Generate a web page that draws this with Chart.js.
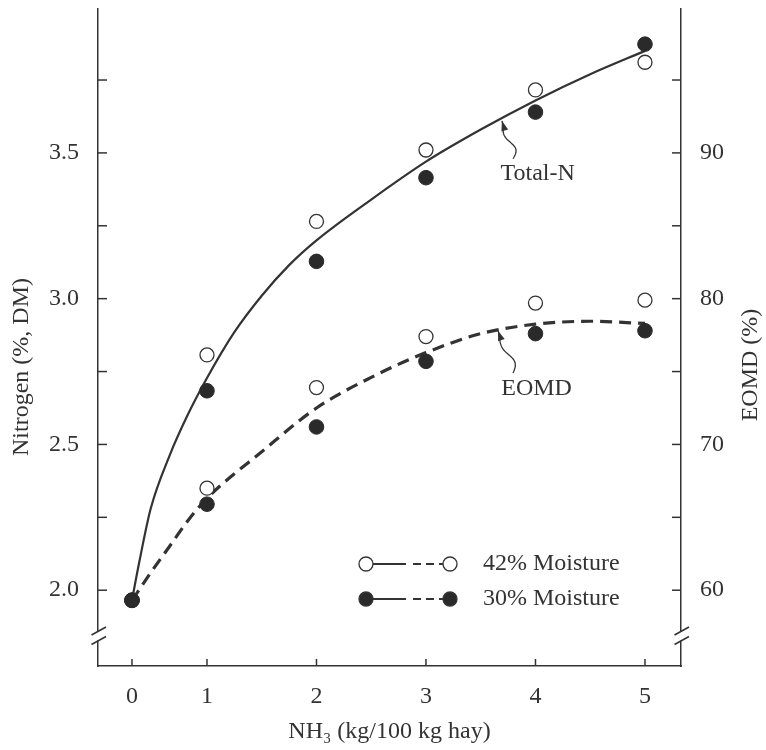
<!DOCTYPE html>
<html>
<head>
<meta charset="utf-8">
<script src="https://cdn.jsdelivr.net/npm/chart.js@4.4.1/dist/chart.umd.min.js"></script>
<style>
  html, body { margin: 0; padding: 0; background: #fff; }
</style>
</head>
<body>
<canvas id="chart" width="766" height="750"></canvas>
<script>
// measured points (NH3 dose, kg/100 kg hay)
var nh3 = [0, 1, 2, 3, 4, 5];
var nitrogen42 = [1.966, 2.807, 3.265, 3.51, 3.716, 3.811];
var nitrogen30 = [1.966, 2.684, 3.128, 3.415, 3.64, 3.873];
var eomd42 = [59.3, 67.0, 73.9, 77.4, 79.7, 79.9];
var eomd30 = [59.3, 65.9, 71.2, 75.7, 77.6, 77.8];

// fitted curves
var nitrogenCurveX = [0, 0.1, 0.25, 0.5, 0.75, 1, 1.25, 1.5, 1.75, 2, 2.5, 3, 3.5, 4, 4.5, 5];
var nitrogenCurve = [1.966, 2.10, 2.28, 2.461, 2.605, 2.728, 2.885, 3.01, 3.115, 3.20, 3.34, 3.47, 3.58, 3.68, 3.77, 3.85];
var eomdCurveX = [0, 0.25, 0.5, 0.75, 1, 1.5, 2, 2.5, 3, 3.5, 4, 4.5, 5];
var eomdCurve = [59.3, 61.2, 63.0, 64.8, 66.3, 69.5, 72.5, 74.6, 76.3, 77.6, 78.25, 78.45, 78.3];

var xTicks = [0, 1, 2, 3, 4, 5];
var nitrogenLabels = [2.0, 2.5, 3.0, 3.5];
var eomdLabels = [60, 70, 80, 90];

var FONT = "'Liberation Serif', 'DejaVu Serif', serif";
var INK = '#333';
var FIRST_UNIT = 0.685;   // in the figure the 0-1 step is drawn shorter than the others

class StretchScale extends Chart.LinearScale {
    static id = 'stretch';
    static defaults = Chart.LinearScale.defaults;
    stretch(v) { return v < 1 ? v * FIRST_UNIT : FIRST_UNIT + (v - 1); }
    unstretch(u) { return u < FIRST_UNIT ? u / FIRST_UNIT : 1 + (u - FIRST_UNIT); }
    getPixelForValue(value) {
        var a = this.stretch(this.min), b = this.stretch(this.max);
        return this.getPixelForDecimal((this.stretch(value) - a) / (b - a));
    }
    getValueForPixel(pixel) {
        var a = this.stretch(this.min), b = this.stretch(this.max);
        return this.unstretch(a + this.getDecimalForPixel(pixel) * (b - a));
    }
}
Chart.register(StretchScale);

function pts(xs, ys) {
    return xs.map(function(x, i) { return {x: x, y: ys[i]}; });
}

function hasValue(list, v) {
    return list.some(function(l) { return Math.abs(l - v) < 1e-6; });
}

var notes = [
    {text: 'Total-N', axis: 'yN', x: 4.02, y: 3.43, tailX: 3.795, tailY: 3.48, tipX: 3.694, tipY: 3.61},
    {text: 'EOMD', axis: 'yE', x: 4.01, y: 73.8, tailX: 3.795, tailY: 74.9, tipX: 3.658, tipY: 77.8}
];

var extras = {
    id: 'extras',
    afterDraw: function(chart) {
        var ctx = chart.ctx;
        var a = chart.chartArea;
        var sx = chart.scales.x, sN = chart.scales.yN, sE = chart.scales.yE;

        function line(x1, y1, x2, y2) {
            ctx.beginPath(); ctx.moveTo(x1, y1); ctx.lineTo(x2, y2); ctx.stroke();
        }

        ctx.save();
        ctx.strokeStyle = INK;
        ctx.lineWidth = 1.5;

        // inward tick marks
        sN.ticks.forEach(function(t) {
            if (t.value < 2 - 1e-6) return;
            var y = sN.getPixelForValue(t.value);
            line(a.left, y, a.left + 9, y);
        });
        sE.ticks.forEach(function(t) {
            if (t.value < 60 - 1e-6) return;
            var y = sE.getPixelForValue(t.value);
            line(a.right - 9, y, a.right, y);
        });
        sx.ticks.forEach(function(t) {
            if (t.value < 0) return;
            var x = sx.getPixelForValue(t.value);
            line(x, a.bottom, x, a.bottom - 7);
        });

        // axis breaks
        [a.left, a.right].forEach(function(ax) {
            var c1 = a.bottom - 35, c2 = a.bottom - 25.5;
            ctx.fillStyle = '#fff';
            ctx.fillRect(ax - 2, c1, 4, c2 - c1);
            ctx.lineWidth = 1.6;
            line(ax - 6.5, c1 + 4, ax + 8, c1 - 4);
            line(ax - 6.5, c2 + 4, ax + 8, c2 - 4);
        });

        // y titles (both read bottom to top)
        ctx.fillStyle = INK;
        ctx.font = '24px ' + FONT;
        ctx.textAlign = 'center';
        ctx.textBaseline = 'middle';
        ctx.save();
        ctx.translate(22, 367);
        ctx.rotate(-Math.PI / 2);
        ctx.fillText('Nitrogen (%, DM)', 0, 0);
        ctx.restore();
        ctx.save();
        ctx.translate(751, 365);
        ctx.rotate(-Math.PI / 2);
        ctx.fillText('EOMD (%)', 0, 0);
        ctx.restore();

        // curve labels with wavy arrows
        notes.forEach(function(n) {
            var ys = chart.scales[n.axis];
            var lx = sx.getPixelForValue(n.x), ly = ys.getPixelForValue(n.y);
            var tx = sx.getPixelForValue(n.tailX), ty = ys.getPixelForValue(n.tailY);
            var px = sx.getPixelForValue(n.tipX), py = ys.getPixelForValue(n.tipY);
            ctx.fillText(n.text, lx, ly);
            var dx = px - tx, dy = py - ty;
            var len = Math.sqrt(dx * dx + dy * dy);
            var nx = -dy / len, ny = dx / len;
            ctx.lineWidth = 1.3;
            ctx.beginPath();
            for (var i = 0; i <= 40; i++) {
                var t = i / 40;
                var off = 7 * Math.sin(2 * Math.PI * t) * (1 - t);
                var x = tx + dx * t + nx * off, y = ty + dy * t + ny * off;
                if (i === 0) ctx.moveTo(x, y); else ctx.lineTo(x, y);
            }
            ctx.stroke();
            var ux = dx / len, uy = dy / len;
            ctx.beginPath();
            ctx.moveTo(px, py);
            ctx.lineTo(px - ux * 10 + nx * 3.5, py - uy * 10 + ny * 3.5);
            ctx.lineTo(px - ux * 10 - nx * 3.5, py - uy * 10 - ny * 3.5);
            ctx.closePath();
            ctx.fill();
        });

        // legend
        var rows = [
            {y: 564, fill: '#fff', text: '42% Moisture'},
            {y: 599, fill: '#2a2a2a', text: '30% Moisture'}
        ];
        rows.forEach(function(r) {
            ctx.lineWidth = 2;
            line(372, r.y, 406, r.y);
            ctx.setLineDash([8, 5]);
            line(413, r.y, 444, r.y);
            ctx.setLineDash([]);
            [366, 450].forEach(function(cx) {
                ctx.beginPath();
                ctx.arc(cx, r.y, 7, 0, Math.PI * 2);
                ctx.fillStyle = r.fill;
                ctx.fill();
                ctx.lineWidth = 1.3;
                ctx.stroke();
            });
            ctx.fillStyle = INK;
            ctx.textAlign = 'left';
            ctx.fillText(r.text, 483, r.y);
        });
        ctx.restore();
    }
};

var noPad = function(s) {
    s.paddingTop = 0; s.paddingBottom = 0; s.paddingLeft = 0; s.paddingRight = 0;
};

var tickFont = {family: FONT, size: 24};

new Chart(document.getElementById('chart'), {
    type: 'scatter',
    data: {
        datasets: [
            {data: pts(nh3, nitrogen30), yAxisID: 'yN', pointRadius: 7.3, pointBackgroundColor: '#2a2a2a', pointBorderColor: '#2a2a2a', pointBorderWidth: 1},
            {data: pts(nh3, eomd30), yAxisID: 'yE', pointRadius: 7.3, pointBackgroundColor: '#2a2a2a', pointBorderColor: '#2a2a2a', pointBorderWidth: 1},
            {data: pts(nh3, nitrogen42), yAxisID: 'yN', pointRadius: 7, pointBackgroundColor: '#fff', pointBorderColor: INK, pointBorderWidth: 1.3},
            {data: pts(nh3, eomd42), yAxisID: 'yE', pointRadius: 7, pointBackgroundColor: '#fff', pointBorderColor: INK, pointBorderWidth: 1.3},
            {data: pts(nitrogenCurveX, nitrogenCurve), yAxisID: 'yN', showLine: true, pointRadius: 0,
             borderColor: INK, borderWidth: 2.2, cubicInterpolationMode: 'monotone'},
            {data: pts(eomdCurveX, eomdCurve), yAxisID: 'yE', showLine: true, pointRadius: 0,
             borderColor: INK, borderWidth: 3.2, borderDash: [12, 7], cubicInterpolationMode: 'monotone'}
        ]
    },
    options: {
        responsive: false,
        animation: false,
        layout: {padding: {top: 6, left: 0, right: 0, bottom: 0}},
        plugins: {legend: {display: false}, tooltip: {enabled: false}},
        scales: {
            x: {
                type: 'stretch',
                position: 'bottom',
                min: -0.453,
                max: 5.329,
                grid: {display: false},
                border: {color: INK, width: 1.5},
                ticks: {
                    stepSize: 1, includeBounds: false, padding: 8, color: INK, font: tickFont,
                    callback: function(v) { return hasValue(xTicks, v) ? String(v) : ''; }
                },
                title: {display: true, text: 'NH\u2083 (kg/100 kg hay)', color: INK, font: tickFont,
                        padding: {top: 0, bottom: 4}},
                afterFit: function(s) { s.height = 84; noPad(s); }
            },
            yN: {
                position: 'left',
                min: 1.74,
                max: 3.996,
                grid: {display: false},
                border: {color: INK, width: 1.5},
                ticks: {
                    stepSize: 0.25, includeBounds: false, padding: 11, color: INK, font: tickFont,
                    callback: function(v) { return hasValue(nitrogenLabels, v) ? v.toFixed(1) : ''; }
                },
                afterFit: function(s) { s.width = 98; noPad(s); }
            },
            yE: {
                position: 'right',
                min: 54.8,
                max: 99.92,
                grid: {display: false},
                border: {color: INK, width: 1.5},
                ticks: {
                    stepSize: 5, includeBounds: false, padding: 11, color: INK, font: tickFont,
                    callback: function(v) { return hasValue(eomdLabels, v) ? String(v) : ''; }
                },
                afterFit: function(s) { s.width = 85; noPad(s); }
            }
        }
    },
    plugins: [extras]
});
</script>
</body>
</html>
